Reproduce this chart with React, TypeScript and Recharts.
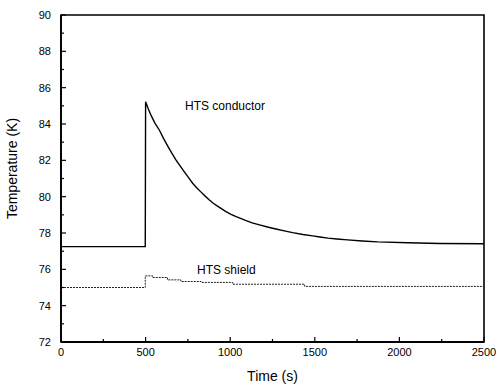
import React from 'react';
import { LineChart, Line, XAxis, YAxis, ReferenceArea } from 'recharts';

const conductorTime = [0, 498, 500, 515, 531, 555, 581, 605, 630, 655, 679, 705, 730, 755, 778, 803, 828, 852, 877, 900, 925, 950, 975, 1005, 1035, 1065, 1094, 1130, 1173, 1220, 1270, 1320, 1369, 1430, 1487, 1530, 1578, 1630, 1694, 1780, 1872, 2050, 2240, 2500];
const conductorTemp = [77.25, 77.25, 85.23, 84.85, 84.5, 84.05, 83.67, 83.22, 82.8, 82.4, 82.02, 81.68, 81.35, 81.03, 80.74, 80.48, 80.25, 80.03, 79.82, 79.64, 79.48, 79.33, 79.18, 79.03, 78.9, 78.79, 78.68, 78.56, 78.45, 78.33, 78.22, 78.12, 78.02, 77.92, 77.84, 77.78, 77.72, 77.67, 77.62, 77.56, 77.51, 77.46, 77.42, 77.41];

const shieldTime = [0, 498, 541, 630, 709, 828, 1015, 1440, 2500];
const shieldTemp = [75.0, 75.64, 75.55, 75.42, 75.33, 75.28, 75.18, 75.06, 75.06];

const timeTicks = [0, 250, 500, 750, 1000, 1250, 1500, 1750, 2000, 2250, 2500];
const tempTicks = [72, 73, 74, 75, 76, 77, 78, 79, 80, 81, 82, 83, 84, 85, 86, 87, 88, 89, 90];

const conductorData = conductorTime.map((x, i) => ({ x, y: conductorTemp[i] }));
const shieldData = shieldTime.map((x, i) => ({ x, y: shieldTemp[i] }));

const FONT = '"Liberation Sans", Arial, sans-serif';

const XTick = (props: any) => {
  const { x, y, payload } = props;
  const v = payload.value as number;
  const major = v % 500 === 0;
  return (
    <g>
      <line x1={x} y1={y} x2={x} y2={y - (major ? 5 : 3)} stroke="#000" strokeWidth={1.2} />
      {major && (
        <text x={x} y={y + 14} textAnchor="middle" fontSize={11} fontFamily={FONT} fill="#000">
          {v}
        </text>
      )}
    </g>
  );
};

const YTick = (props: any) => {
  const { x, y, payload } = props;
  const v = payload.value as number;
  const major = v % 2 === 0;
  return (
    <g>
      <line x1={x} y1={y} x2={x + (major ? 5 : 3)} y2={y} stroke="#000" strokeWidth={1.2} />
      {major && (
        <text x={x - 10} y={y + 4} textAnchor="end" fontSize={11} fontFamily={FONT} fill="#000">
          {v}
        </text>
      )}
    </g>
  );
};

export default function App() {
  return (
    <div style={{ position: 'absolute', left: 0, top: 0, width: 504, height: 385, background: '#fff' }}>
      <LineChart width={504} height={385} margin={{ top: 15, right: 20, bottom: 0, left: 0 }}>
        <XAxis
          dataKey="x"
          type="number"
          domain={[0, 2500]}
          ticks={timeTicks}
          interval={0}
          tickSize={0}
          tickMargin={0}
          tick={<XTick />}
          height={43}
          axisLine={{ stroke: '#000', strokeWidth: 1.8 }}
          tickLine={false}
          allowDuplicatedCategory={false}
          label={{ value: 'Time (s)', position: 'insideBottom', offset: 4, fontSize: 14, fontFamily: FONT, fill: '#000' }}
        />
        <YAxis
          dataKey="y"
          type="number"
          domain={[72, 90]}
          ticks={tempTicks}
          interval={0}
          tickSize={0}
          tickMargin={0}
          tick={<YTick />}
          width={61}
          axisLine={{ stroke: '#000', strokeWidth: 1.8 }}
          tickLine={false}
          label={{ value: 'Temperature (K)', angle: -90, position: 'insideLeft', offset: 12, dy: -10, fontSize: 14, fontFamily: FONT, fill: '#000', style: { textAnchor: 'middle' } }}
        />
        <ReferenceArea x1={0} x2={2500} y1={72} y2={90} fill="none" stroke="#000" strokeWidth={1.6} ifOverflow="visible" />
        <Line
          data={conductorData}
          dataKey="y"
          type="linear"
          stroke="#000"
          strokeWidth={1.4}
          dot={false}
          isAnimationActive={false}
        />
        <Line
          data={shieldData}
          dataKey="y"
          type="stepAfter"
          stroke="#222"
          strokeWidth={1}
          strokeDasharray="2 1"
          dot={false}
          isAnimationActive={false}
        />
      </LineChart>
      <div style={{ position: 'absolute', left: 185, top: 99, fontFamily: FONT, fontSize: 12, color: '#000', lineHeight: '14px', whiteSpace: 'nowrap' }}>
        HTS conductor
      </div>
      <div style={{ position: 'absolute', left: 197, top: 263, fontFamily: FONT, fontSize: 12, color: '#000', lineHeight: '14px', whiteSpace: 'nowrap' }}>
        HTS shield
      </div>
    </div>
  );
}
